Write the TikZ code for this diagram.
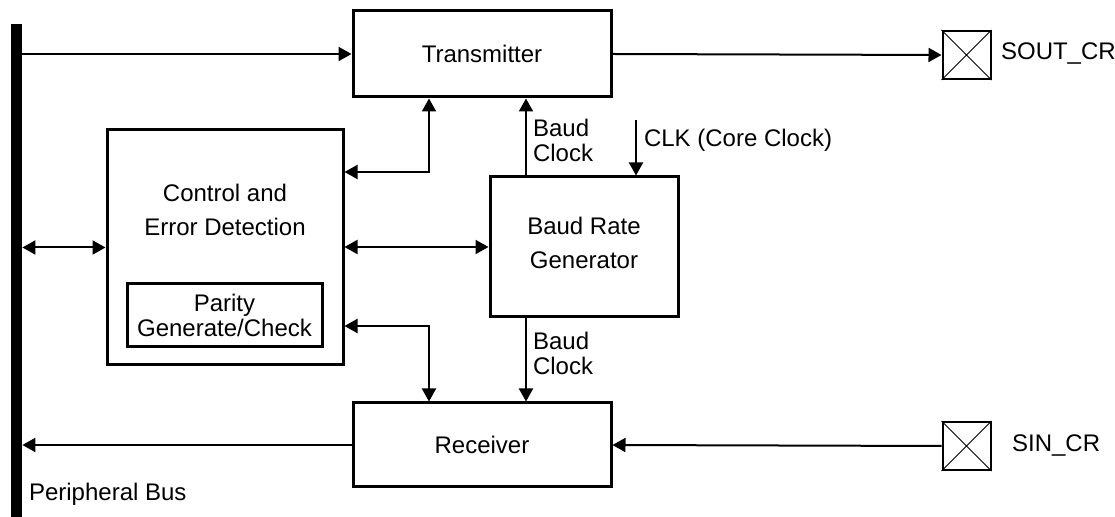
\documentclass[tikz,border=0pt]{standalone}
\usepackage{fontspec}
\setmainfont{Liberation Sans}
\usetikzlibrary{arrows.meta}

\begin{document}
\begin{tikzpicture}[x=0.5pt,y=-0.5pt,>={Triangle[length=6.5pt,width=7pt]},
  font=\fontsize{12}{12.5}\selectfont,
  blk/.style={draw,line width=1.5pt,inner sep=0pt,align=center},
  con/.style={line width=1pt},
  pad/.style={draw,line width=1pt,minimum size=24pt,inner sep=0pt},
  wide/.style={align=center,font=\fontsize{12}{17}\selectfont}]
\useasboundingbox(0,0)rectangle(1115,517);
%%% blocks
\node[fill=black,minimum width=5.5pt,minimum height=246.5pt,inner sep=0pt](bus) at (16.5,270.5){};
\node[blk,minimum width=129pt,minimum height=43pt](tx) at (482,54){Transmitter};
\node[blk,minimum width=118pt,minimum height=117.5pt](ctl) at (225,247.5){};
\node[wide](ctltxt) at (225,210){Control and\\Error Detection};
\node[blk,minimum width=97.5pt,minimum height=31.5pt](par) at (224.5,315.5){Parity\\Generate/Check};
\node[blk,minimum width=94pt,minimum height=70pt](brg) at (584,247){};
\node[wide](brgtxt) at (584,243){Baud Rate\\Generator};
\node[blk,minimum width=129pt,minimum height=42pt](rx) at (482,445){Receiver};
\node[pad](sout) at (966.5,55){};
\node[pad](sin) at (966.5,446){};
\draw[line width=0.5pt](sout.north west)--(sout.south east)(sout.north east)--(sout.south west);
\draw[line width=0.5pt](sin.north west)--(sin.south east)(sin.north east)--(sin.south west);
%%% connectors
\coordinate(bcu) at ([xshift=-29pt]brg.north);
\coordinate(bcd) at ([xshift=-29pt]brg.south);
\coordinate(clk) at (636,120);
\draw[con,->](tx.west -| bus.east)--(tx.west);
\draw[con,->](tx.east)--(sout.west);
\draw[con,<->](ctl.west -| bus.east)--(ctl.west);
\draw[con,<->](ctl.east |- brg.west)--(brg.west);
\draw[con,<->]([yshift=37.75pt]ctl.east)-|([xshift=-26.5pt]tx.south);
\draw[con,<->]([yshift=-39.25pt]ctl.east)-|([xshift=-26.5pt]rx.north);
\draw[con,->](bcu)--(bcu |- tx.south);
\draw[con,->](bcd)--(bcd |- rx.north);
\draw[con,->](clk)--(clk |- brg.north);
\draw[con,->](rx.west)--(rx.west -| bus.east);
\draw[con,->](sin.west)--(rx.east);
%%% labels
\node[anchor=west,align=left](bc1) at (526,140){Baud\\Clock};
\node[anchor=west,align=left](bc2) at (526,353){Baud\\Clock};
\node[anchor=west](clklbl) at (637,140){CLK (Core Clock)};
\node[anchor=west](soutlbl) at (994,54){SOUT\_CR};
\node[anchor=west](sinlbl) at (1005,446){SIN\_CR};
\node[anchor=west](buslbl) at (22,494){Peripheral Bus};
\end{tikzpicture}
\end{document}
